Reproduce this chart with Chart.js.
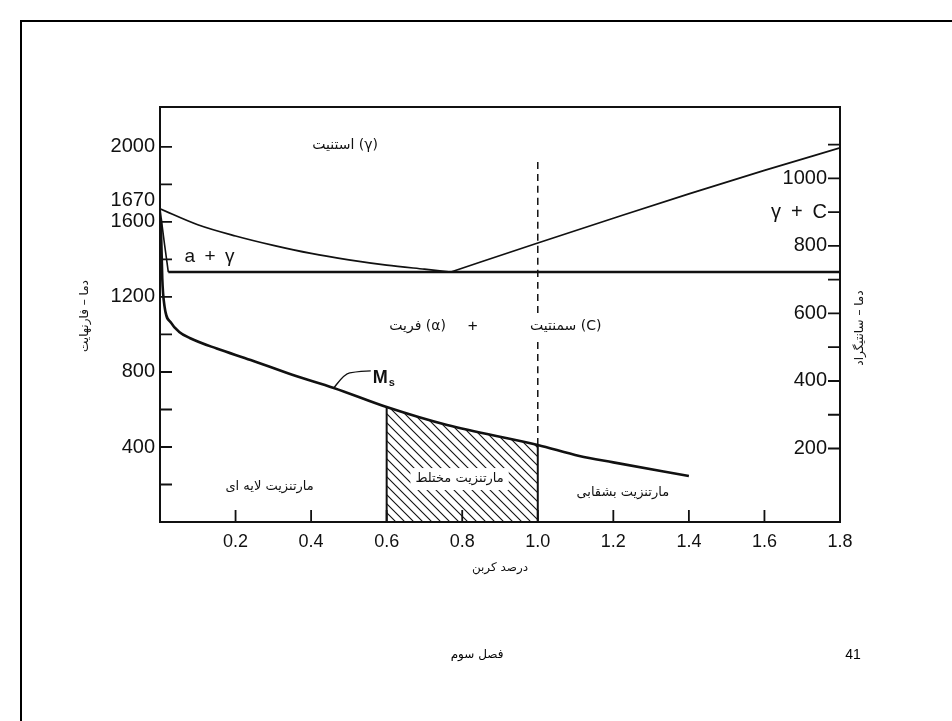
<!DOCTYPE html>
<html>
<head>
<meta charset="utf-8">
<script src="https://cdn.jsdelivr.net/npm/chart.js@4.4.0/dist/chart.umd.min.js"></script>
<style>
    html, body { margin: 0; padding: 0; background: #fff; }
    #wrap { width: 952px; height: 721px; position: relative; }
</style>
</head>
<body>
<div id="wrap"><canvas id="phaseChart"></canvas></div>
<script>
// carbon % on x, temperature in °F on the left axis
const a3Carbon = [0, 0.1, 0.2, 0.3, 0.4, 0.5, 0.6, 0.7, 0.77];
const a3Temp = [1670, 1585, 1525, 1475, 1432, 1398, 1370, 1348, 1333];
const acmCarbon = [0.77, 1.0, 1.2, 1.4, 1.6, 1.8];
const acmTemp = [1333, 1488, 1620, 1750, 1875, 1995];
const a1Carbon = [0.022, 1.8];
const a1Temp = [1333, 1333];
const ferriteCarbon = [0, 0.012, 0.022];
const ferriteTemp = [1670, 1480, 1333];
const msCarbon = [0.002, 0.006, 0.012, 0.03, 0.05, 0.08, 0.15, 0.24, 0.35, 0.46, 0.6, 0.76, 1.0, 1.11, 1.2, 1.4];
const msTemp = [1620, 1300, 1150, 1060, 1015, 980, 925, 864, 785, 715, 613, 517, 411, 352, 318, 245];
const mixedFrom = 0.6;
const mixedTo = 1.0;
const dashedTop = 1920;

// axes
const fMax = 2213;
const xTicks = [0.2, 0.4, 0.6, 0.8, 1.0, 1.2, 1.4, 1.6, 1.8];
const fTicks = [200, 400, 600, 800, 1000, 1200, 1400, 1600, 1800, 2000];
const fLabels = [400, 800, 1200, 1600, 2000];
const cTicks = [200, 300, 400, 500, 600, 700, 800, 900, 1000, 1100];
const cLabels = { 200: '200', 400: '400', 600: '600', 800: '800', 900: 'γ\u2002+\u2002C', 1000: '1000' };

const ink = '#111';
const arabicFont = "'DejaVu Sans', sans-serif";
const numFont = "'Liberation Sans', Arial, sans-serif";

function pts(xs, ys) {
    return xs.map((x, i) => ({ x: x, y: ys[i] }));
}

const msPoints = pts(msCarbon, msTemp);
const mixedPoints = msPoints.filter(p => p.x >= mixedFrom && p.x <= mixedTo);
const msAt = x => msPoints.find(p => p.x === x).y;

// hatch pattern for the mixed martensite zone
function makeHatch() {
    const s = 9;
    const c = document.createElement('canvas');
    c.width = s; c.height = s;
    const g = c.getContext('2d');
    g.strokeStyle = ink;
    g.lineWidth = 1.1;
    g.beginPath();
    g.moveTo(0, 0); g.lineTo(s, s);
    g.moveTo(-2, s - 2); g.lineTo(2, s + 2);
    g.moveTo(s - 2, -2); g.lineTo(s + 2, 2);
    g.stroke();
    return g.createPattern(c, 'repeat');
}

const lineBase = { pointRadius: 0, borderColor: ink, fill: false, cubicInterpolationMode: 'monotone', yAxisID: 'yF' };

// text placed in data coordinates
const regionLabels = [
    { text: '(γ) استنیت', x: 0.49, y: 2010, size: 14 },
    { text: '(α) فریت', x: 0.682, y: 1045, size: 14 },
    { text: '+', x: 0.828, y: 1045, size: 17, latin: true },
    { text: '(C) سمنتیت', x: 1.074, y: 1045, size: 14, boxed: true },
    { text: 'مارتنزیت لایه ای', x: 0.29, y: 187, size: 13 },
    { text: 'مارتنزیت مختلط', x: 0.793, y: 229, size: 13, boxed: true },
    { text: 'مارتنزیت بشقابی', x: 1.225, y: 155, size: 13 },
    { text: 'a\u2002+\u2002γ', x: 0.131, y: 1413, size: 19, latin: true }
];

const pagePlugin = {
    id: 'page',
    beforeDraw(chart) {
        const ctx = chart.ctx;
        ctx.save();
        ctx.strokeStyle = '#000';
        ctx.lineWidth = 2;
        ctx.beginPath();
        ctx.moveTo(21, chart.height);
        ctx.lineTo(21, 21);
        ctx.lineTo(chart.width, 21);
        ctx.stroke();
        ctx.restore();
    },
    afterDraw(chart) {
        const ctx = chart.ctx;
        const { left, right, top, bottom } = chart.chartArea;
        const xs = chart.scales.x, yF = chart.scales.yF, yC = chart.scales.yC;
        ctx.save();
        ctx.strokeStyle = ink;
        // frame top
        ctx.lineWidth = 2;
        ctx.beginPath();
        ctx.moveTo(left, top); ctx.lineTo(right, top);
        ctx.stroke();
        // inward tick marks
        ctx.lineWidth = 1.8;
        ctx.beginPath();
        xTicks.forEach(v => { const p = xs.getPixelForValue(v); ctx.moveTo(p, bottom); ctx.lineTo(p, bottom - 12); });
        fTicks.forEach(v => { const p = yF.getPixelForValue(v); ctx.moveTo(left, p); ctx.lineTo(left + 12, p); });
        cTicks.forEach(v => { const p = yC.getPixelForValue(v); ctx.moveTo(right, p); ctx.lineTo(right - 12, p); });
        ctx.stroke();

        ctx.fillStyle = ink;
        // 1670 label, nudged above 1600
        ctx.font = '20px ' + numFont;
        ctx.textAlign = 'right';
        ctx.textBaseline = 'middle';
        ctx.fillText('1670', left - 5, yF.getPixelForValue(1670) - 8);

        // region texts
        ctx.textAlign = 'center';
        regionLabels.forEach(l => {
            ctx.direction = l.latin ? 'ltr' : 'rtl';
            ctx.font = l.size + 'px ' + (l.latin ? numFont : arabicFont);
            const px = xs.getPixelForValue(l.x), py = yF.getPixelForValue(l.y);
            if (l.boxed) {
                const w = ctx.measureText(l.text).width + 10;
                ctx.fillStyle = '#fff';
                ctx.fillRect(px - w / 2, py - 11, w, 22);
                ctx.fillStyle = ink;
            }
            ctx.fillText(l.text, px, py);
        });

        // Ms label with leader
        const x0 = xs.getPixelForValue(0.46), y0 = yF.getPixelForValue(msAt(0.46));
        ctx.lineWidth = 1.4;
        ctx.beginPath();
        ctx.moveTo(x0, y0);
        ctx.bezierCurveTo(x0 + 5, y0 - 6, x0 + 10, y0 - 14, x0 + 16, y0 - 15);
        ctx.bezierCurveTo(x0 + 22, y0 - 16, x0 + 28, y0 - 17, x0 + 37, y0 - 17);
        ctx.stroke();
        ctx.direction = 'ltr';
        ctx.textAlign = 'left';
        ctx.font = 'bold 18px ' + numFont;
        ctx.fillText('M', x0 + 39, y0 - 10);
        ctx.font = 'bold 11px ' + numFont;
        ctx.fillText('s', x0 + 55, y0 - 5);

        // axis titles
        ctx.direction = 'rtl';
        ctx.textAlign = 'center';
        ctx.font = '12px ' + arabicFont;
        ctx.save();
        ctx.translate(85, 316);
        ctx.rotate(-Math.PI / 2);
        ctx.fillText('دما – فارنهایت', 0, 0);
        ctx.restore();
        ctx.save();
        ctx.translate(860, 328);
        ctx.rotate(-Math.PI / 2);
        ctx.fillText('دما – سانتیگراد', 0, 0);
        ctx.restore();
        ctx.font = '12px ' + arabicFont;
        ctx.fillText('درصد کربن', xs.getPixelForValue(0.9), 568);

        // footer
        ctx.fillStyle = '#000';
        ctx.font = '12px ' + arabicFont;
        ctx.fillText('فصل سوم', 477, 655);
        ctx.direction = 'ltr';
        ctx.font = '14px ' + numFont;
        ctx.fillText('41', 853, 655);
        ctx.restore();
    }
};

const ctx = document.getElementById('phaseChart').getContext('2d');
const phaseChart = new Chart(ctx, {
    type: 'line',
    data: {
        datasets: [
            { ...lineBase, label: 'A3', data: pts(a3Carbon, a3Temp), borderWidth: 1.7 },
            { ...lineBase, label: 'Acm', data: pts(acmCarbon, acmTemp), borderWidth: 1.7 },
            { ...lineBase, label: 'A1', data: pts(a1Carbon, a1Temp), borderWidth: 2.4 },
            { ...lineBase, label: 'ferrite', data: pts(ferriteCarbon, ferriteTemp), borderWidth: 1.6 },
            { ...lineBase, label: 'Ms', data: msPoints, borderWidth: 2.6 },
            { ...lineBase, label: 'mix left', data: [{ x: mixedFrom, y: 0 }, { x: mixedFrom, y: msAt(mixedFrom) }], borderWidth: 2 },
            { ...lineBase, label: 'mix right', data: [{ x: mixedTo, y: 0 }, { x: mixedTo, y: msAt(mixedTo) }], borderWidth: 2 },
            { ...lineBase, label: 'eutectoid 1%', data: [{ x: mixedTo, y: msAt(mixedTo) }, { x: mixedTo, y: dashedTop }], borderWidth: 1.5, borderDash: [7, 5] },
            { ...lineBase, label: 'mixed zone', data: mixedPoints, borderWidth: 0, fill: 'origin', backgroundColor: makeHatch(), order: 10 }
        ]
    },
    options: {
        responsive: true,
        maintainAspectRatio: false,
        animation: false,
        layout: { padding: { top: 107, left: 0, right: 0, bottom: 0 } },
        plugins: { legend: { display: false }, tooltip: { enabled: false } },
        scales: {
            x: {
                type: 'linear', position: 'bottom', min: 0, max: 1.8,
                afterFit: s => { s.height = 199; },
                afterBuildTicks: s => { s.ticks = xTicks.map(v => ({ value: v })); },
                grid: { display: false, drawTicks: false },
                border: { display: true, color: ink, width: 2 },
                ticks: {
                    padding: 9, color: ink, autoSkip: false, maxRotation: 0,
                    font: { family: numFont, size: 18 },
                    callback: v => v.toFixed(1)
                }
            },
            yF: {
                type: 'linear', position: 'left', min: 0, max: fMax,
                afterFit: s => { s.width = 160; },
                afterBuildTicks: s => { s.ticks = fTicks.map(v => ({ value: v })); },
                grid: { display: false, drawTicks: false },
                border: { display: true, color: ink, width: 2 },
                ticks: {
                    padding: 5, color: ink, autoSkip: false,
                    font: { family: numFont, size: 20 },
                    callback: v => fLabels.includes(v) ? String(v) : ''
                }
            },
            yC: {
                type: 'linear', position: 'right',
                min: (0 - 32) * 5 / 9, max: (fMax - 32) * 5 / 9,
                afterFit: s => { s.width = 112; },
                afterBuildTicks: s => { s.ticks = cTicks.map(v => ({ value: v })); },
                grid: { display: false, drawTicks: false },
                border: { display: true, color: ink, width: 2 },
                ticks: {
                    mirror: true, padding: -13, color: ink, autoSkip: false,
                    font: { family: numFont, size: 20 },
                    callback: v => cLabels[v] !== undefined ? cLabels[v] : ''
                }
            }
        }
    },
    plugins: [pagePlugin]
});
</script>
</body>
</html>
